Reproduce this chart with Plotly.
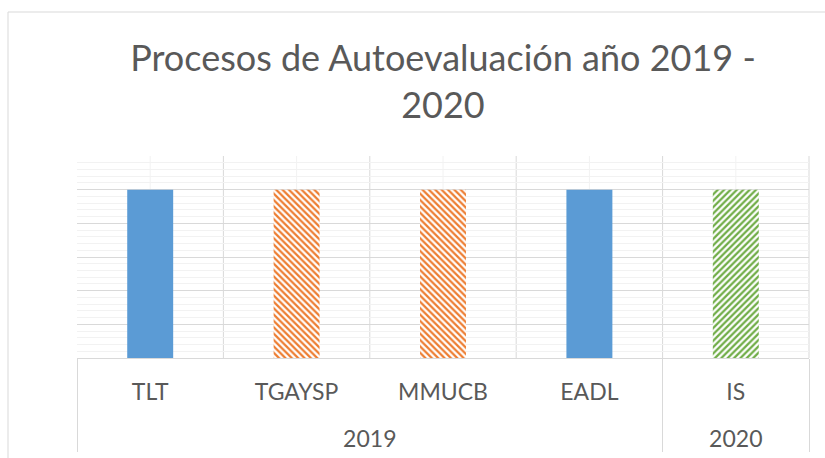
import plotly.graph_objects as go

years = ["2019", "2019", "2019", "2019", "2020"]
programs = ["TLT", "TGAYSP", "MMUCB", "EADL", "IS"]
values = [1, 1, 1, 1, 1]
bar_colors = ["#5B9BD5", "#ED7D31", "#ED7D31", "#5B9BD5", "#70AD47"]
bar_patterns = ["", "\\", "\\", "", "/"]
title_text = "Procesos de Autoevaluación año 2019 -<br>2020"

W, H = 825, 458
L, R, T, B = 77, 809, 156, 358
pw, ph = R - L, B - T

# inner labels get an empty second line so the year row sits lower (as in Excel)
inner_labels = [p + "<br>\u00a0" for p in programs]

fig = go.Figure()
styles = []
for c, p in zip(bar_colors, bar_patterns):
    if (c, p) not in styles:
        styles.append((c, p))
for c, p in styles:
    yv = [v if (bc, bp) == (c, p) else None
          for v, bc, bp in zip(values, bar_colors, bar_patterns)]
    if p == "":
        marker = dict(color=c, line=dict(width=0))
    else:
        marker = dict(color=c, line=dict(width=0),
                      pattern=dict(shape=p, fgcolor=c, bgcolor="white",
                                   fillmode="replace", size=4.5, solidity=0.5))
    fig.add_trace(go.Bar(x=[years, inner_labels], y=yv, marker=marker,
                         hoverinfo="skip"))

grid_major = "#d9d9d9"
grid_minor = "#f2f2f2"
n = len(programs)
shapes = []
for i in range(n):
    shapes.append(dict(type="line", xref="paper", yref="paper",
                       x0=(i + 0.5) / n, x1=(i + 0.5) / n, y0=0, y1=1,
                       line=dict(color=grid_minor, width=1), layer="below"))
for i in range(1, n + 1):
    shapes.append(dict(type="line", xref="paper", yref="paper",
                       x0=i / n, x1=i / n, y0=0, y1=1,
                       line=dict(color=grid_major, width=1), layer="below"))
fx = (8 - L) / pw
fy = (B - 12) / ph
shapes.append(dict(type="line", xref="paper", yref="paper",
                   x0=fx, x1=fx, y0=(B - H - 5) / ph, y1=fy,
                   line=dict(color=grid_major, width=1)))
shapes.append(dict(type="line", xref="paper", yref="paper",
                   x0=fx, x1=(W + 5 - L) / pw, y0=fy, y1=fy,
                   line=dict(color=grid_major, width=1)))

fig.update_layout(
    width=W, height=H,
    margin=dict(l=L, r=W - R, t=T, b=H - B, pad=0, autoexpand=False),
    paper_bgcolor="white", plot_bgcolor="white",
    showlegend=False,
    barmode="overlay",
    bargap=0.686,
    title=dict(text=title_text, x=0.5, xref="paper", xanchor="center",
               y=1 - 71 / H, yanchor="top", yref="container",
               font=dict(family="Lato", size=36, color="#595959")),
    font=dict(family="Lato", color="#595959"),
    shapes=shapes,
)
fig.update_xaxes(
    type="multicategory", automargin=False,
    showgrid=False,
    showline=True, linecolor=grid_major, linewidth=1,
    showdividers=True, dividercolor=grid_major, dividerwidth=1,
    tickfont=dict(family="Lato", size=23, color="#595959"),
    ticks="", ticklabelstandoff=13,
)
fig.update_yaxes(
    automargin=False,
    range=[0, 1.2], dtick=0.2, showgrid=True, gridcolor=grid_major, gridwidth=1,
    minor=dict(dtick=0.04, showgrid=True, gridcolor=grid_minor, gridwidth=1),
    showticklabels=False, zeroline=False, showline=False, ticks="",
)

fig.write_html("out.html", config={"displayModeBar": False},
               post_script="document.body.style.margin='0';")
